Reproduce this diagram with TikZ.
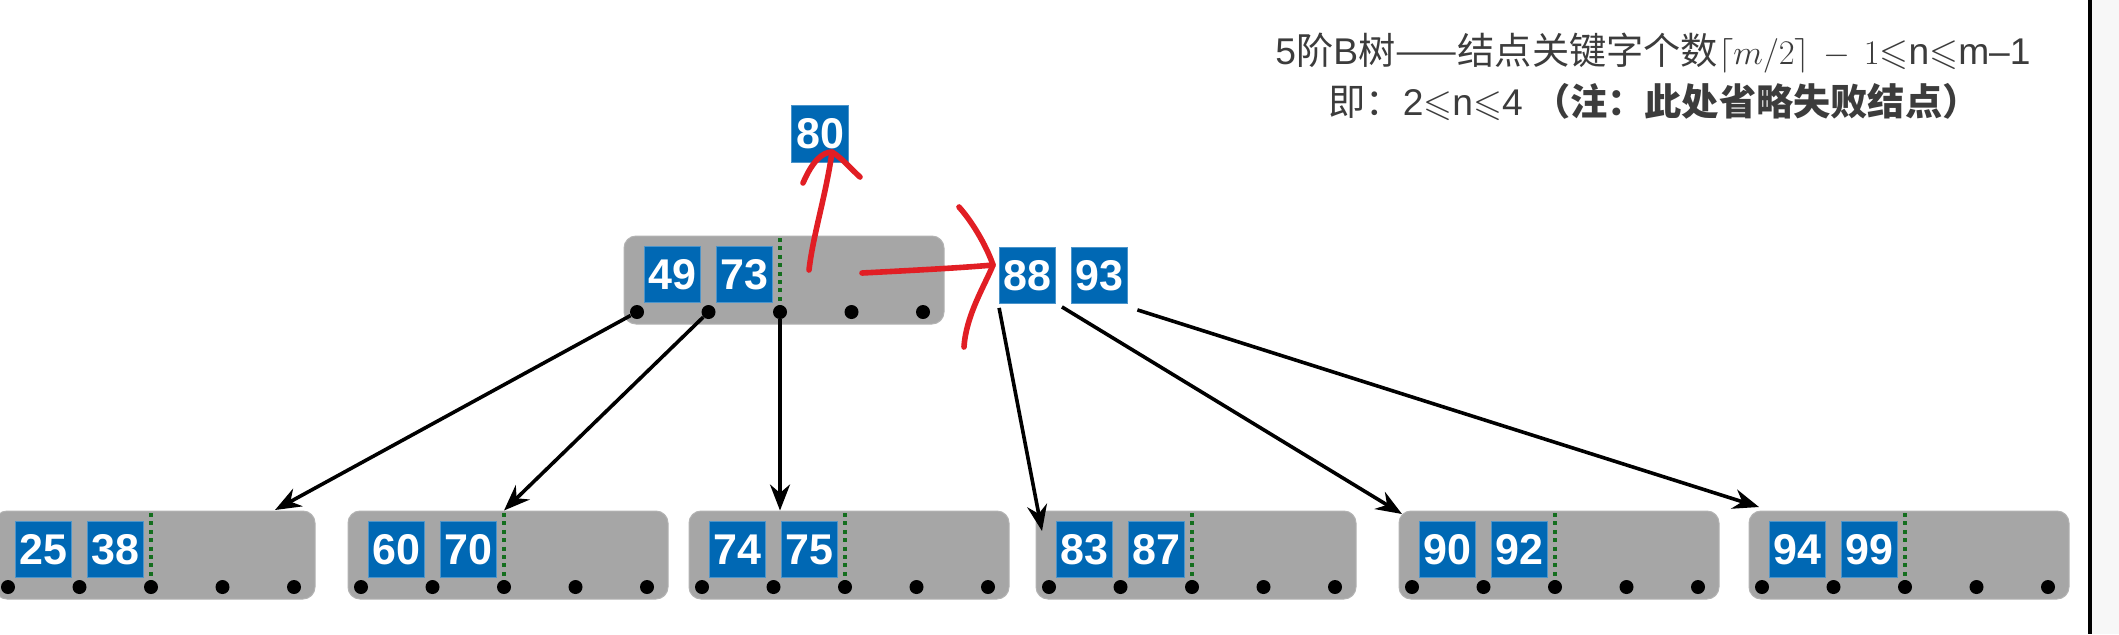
\documentclass[tikz,border=0pt]{standalone}
\usepackage{amssymb}
\usepackage{fontspec}
\setmainfont{Liberation Sans}
\newfontfamily\cjkf{Noto Sans CJK SC}
\usetikzlibrary{arrows.meta,calc}
\definecolor{keyblue}{RGB}{0,104,180}
\definecolor{nodegray}{RGB}{166,166,166}
\definecolor{ptrgreen}{RGB}{20,110,30}
\definecolor{penred}{RGB}{225,30,36}
\definecolor{txtgray}{RGB}{60,60,60}
\tikzset{
  graybox/.style={draw=nodegray!85!white, line width=0.5pt, fill=nodegray, rounded corners=6pt, minimum width=160pt, minimum height=44pt, inner sep=0pt},
  keybox/.style={fill=keyblue, draw=keyblue!70!white, line width=0.4pt, minimum width=28pt, minimum height=28pt, inner sep=0pt, text=white, font=\fontsize{21.5}{21.5}\selectfont\bfseries},
  ptrdot/.style={circle, fill=black, minimum size=7pt, inner sep=0pt},
  greenptr/.style={ptrgreen, line width=2pt, dash pattern=on 2pt off 2.2pt},
  arr/.style={black, line width=1.8pt, -{Stealth[length=13pt,width=10pt]}},
  redpen/.style={penred, line width=2.8pt, line cap=round, line join=round},
  titletext/.style={anchor=base west, inner sep=0pt, text=txtgray, font=\fontsize{18.6}{21}\selectfont}
}
\newcommand{\btnode}[5]{%
  \node[graybox] (#1) at (#2+147,#3-32) {};
  \draw[greenptr] ($(#2+143,#3-74)$) -- (#2+143,#3);
  \node[keybox] (#1k1) at (#2+35.75,#3-37.5) {#4};
  \node[keybox] (#1k2) at (#2+107.25,#3-37.5) {#5};
  \foreach \i in {0,...,4} {\node[ptrdot] (#1d\i) at (#2+71.5*\i,#3) {};}
}
\begin{document}
\begin{tikzpicture}[x=0.5pt,y=-0.5pt]
\fill[white] (0,0) rectangle (2119,634);
\useasboundingbox (0,0) rectangle (2119,634);
\clip (0,0) rectangle (2119,634);
\fill[gray!6] (2091,0) rectangle (2119,634);
\draw[black, line width=2pt] (2089.5,0) -- (2089.5,634);

% title text
\node[titletext] (title1) at (1275,64) {5{\cjkf 阶}B{\cjkf 树——结点关键字个数}$\lceil m/2\rceil\,-\,1$$\leqslant$n$\leqslant$m–1};
\node[titletext] (title2) at (1328,115) {{\cjkf 即：}2$\leqslant$n$\leqslant$4 {\cjkf\bfseries （注：此处省略失败结点）}};

% nodes
\btnode{t}{637}{312}{49}{73}
\btnode{n1}{8}{587}{25}{38}
\btnode{n2}{361}{587}{60}{70}
\btnode{n3}{702}{587}{74}{75}
\btnode{n4}{1049}{587}{83}{87}
\btnode{n5}{1412}{587}{90}{92}
\btnode{n6}{1762}{587}{94}{99}

\node[keybox, minimum height=28.5pt, minimum width=28.5pt] (k80) at (820,133.5) {80};
\node[keybox] (k88) at (1027.5,275.5) {88};
\node[keybox] (k93) at (1099,275.5) {93};

% connectors
\coordinate (e1) at (275,510);
\coordinate (e4) at (1042,531);
\coordinate (e5) at (1402,514);
\coordinate (e6) at (1759,507);
\draw[arr] (td0) -- (e1);
\draw[arr] (td1) -- (n2d2 |- n2.north);
\draw[arr] (td2) -- (td2 |- n3.north);
\draw[arr] ($(k88.south west)+(0,4)$) -- (e4);
\draw[arr] ($(k88.south east)+(6,3)$) -- (e5);
\draw[arr] ($(k93.south east)+(10,6)$) -- (e6);

% red hand-drawn strokes
\draw[redpen] (809,270) .. controls (813,235) and (826,195) .. (832,152);
\draw[redpen] (803,183) .. controls (812,162) and (822,152) .. (832,152) .. controls (842,158) and (852,170) .. (860,177);
\draw[redpen] (862,273) .. controls (900,271) and (960,268) .. (993,265);
\draw[redpen] (959,207) .. controls (975,225) and (988,250) .. (993,265) .. controls (985,285) and (966,315) .. (964,347);
\end{tikzpicture}
\end{document}
